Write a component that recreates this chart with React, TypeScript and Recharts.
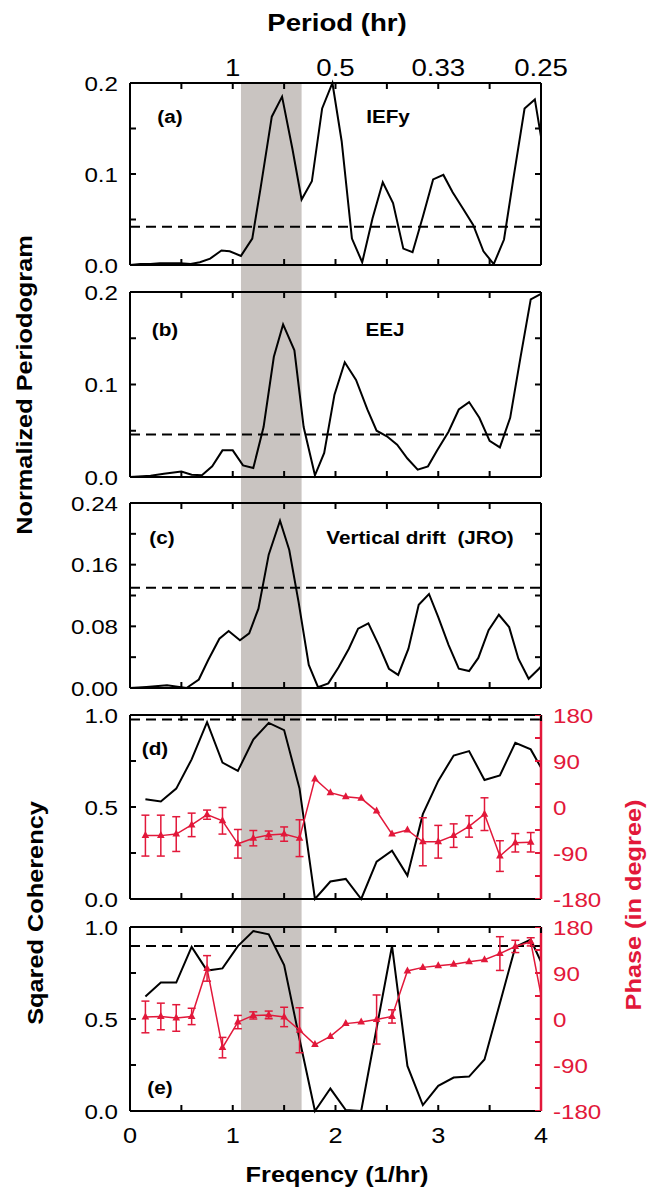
import React from 'react';
import { LineChart, Line, XAxis, YAxis, ReferenceLine, ReferenceArea, ErrorBar } from 'recharts';

const RED = '#e2183a';
const GREY = '#c9c4c1';
const FONT = '"Liberation Sans", Arial, Helvetica, sans-serif';
const SX = 1.15; // lettering in the figure runs wide
const W = 649;
const LEFT = 130;
const RIGHT = 108;

// shaded band (1/hr)
const bandFreq = [1.08, 1.67];

// axes
const freqTicks = [0, 0.5, 1, 1.5, 2, 2.5, 3, 3.5, 4];
const freqLabels = [0, 1, 2, 3, 4];
const periodAt = [1, 2, 3, 4];
const periodText = ['1', '0.5', '0.33', '0.25'];
const phaseTicks = [-180, -135, -90, -45, 0, 45, 90, 135, 180];
const phaseLabels = [-180, -90, 0, 90, 180];
const pgTicks = [0, 0.05, 0.1, 0.15, 0.2];
const pgLabels = [0, 0.1, 0.2];
const driftTicks = [0, 0.04, 0.08, 0.12, 0.16, 0.2, 0.24];
const driftLabels = [0, 0.08, 0.16, 0.24];
const cohTicks = [0, 0.25, 0.5, 0.75, 1];
const cohLabels = [0, 0.5, 1];

// significance levels (dashed)
const levelA = 0.042;
const levelB = 0.046;
const levelC = 0.13;
const levelD = 0.976;
const levelE = 0.897;

// (a) IEFy
const freqA = [0, 0.1, 0.2, 0.29, 0.39, 0.49, 0.59, 0.68, 0.78, 0.89, 0.97, 1.08, 1.19, 1.27, 1.38, 1.48, 1.58, 1.67, 1.77, 1.87, 1.97, 2.06, 2.16, 2.26, 2.36, 2.46, 2.56, 2.66, 2.75, 2.85, 2.95, 3.05, 3.14, 3.24, 3.34, 3.44, 3.54, 3.64, 3.73, 3.84, 3.94, 4.0];
const iefy = [0, 0.001, 0.001, 0.002, 0.002, 0.002, 0.001, 0.003, 0.007, 0.016, 0.015, 0.01, 0.029, 0.084, 0.163, 0.185, 0.128, 0.072, 0.092, 0.172, 0.2, 0.136, 0.029, 0.003, 0.051, 0.091, 0.068, 0.018, 0.014, 0.053, 0.094, 0.099, 0.08, 0.062, 0.044, 0.015, 0.001, 0.028, 0.094, 0.172, 0.182, 0.141];

// (b) EEJ
const freqB = [0, 0.2, 0.33, 0.5, 0.6, 0.7, 0.8, 0.9, 1.0, 1.1, 1.2, 1.3, 1.4, 1.49, 1.6, 1.69, 1.8, 1.89, 1.99, 2.09, 2.2, 2.31, 2.4, 2.5, 2.6, 2.7, 2.8, 2.9, 2.99, 3.1, 3.2, 3.3, 3.4, 3.5, 3.6, 3.7, 3.8, 3.9, 4.0];
const eej = [0, 0.0014, 0.0036, 0.006, 0.0025, 0.0018, 0.0115, 0.0288, 0.0288, 0.0126, 0.0097, 0.054, 0.13, 0.165, 0.137, 0.054, 0.0018, 0.026, 0.089, 0.124, 0.105, 0.073, 0.05, 0.044, 0.035, 0.02, 0.008, 0.0115, 0.0288, 0.049, 0.073, 0.081, 0.064, 0.039, 0.032, 0.064, 0.129, 0.192, 0.198];

// (c) vertical drift (JRO)
const freqC = [0, 0.16, 0.36, 0.55, 0.67, 0.76, 0.87, 0.96, 1.07, 1.16, 1.25, 1.35, 1.46, 1.55, 1.64, 1.74, 1.83, 1.93, 2.03, 2.13, 2.22, 2.32, 2.42, 2.52, 2.61, 2.71, 2.81, 2.91, 3.0, 3.1, 3.2, 3.3, 3.39, 3.49, 3.59, 3.69, 3.78, 3.88, 3.98, 4.0];
const drift = [0, 0.0013, 0.0035, 0, 0.011, 0.036, 0.064, 0.074, 0.062, 0.071, 0.103, 0.173, 0.217, 0.179, 0.112, 0.03, 0.001, 0.006, 0.027, 0.051, 0.077, 0.084, 0.056, 0.025, 0.017, 0.051, 0.108, 0.122, 0.092, 0.056, 0.025, 0.022, 0.039, 0.075, 0.095, 0.079, 0.038, 0.012, 0.025, 0.028];

// (d), (e) squared coherency and phase
const freqCoh = [0.15, 0.3, 0.45, 0.6, 0.75, 0.9, 1.05, 1.2, 1.35, 1.5, 1.65, 1.8, 1.95, 2.1, 2.25, 2.4, 2.55, 2.7, 2.85, 3.0, 3.15, 3.3, 3.45, 3.6, 3.75, 3.9, 4.0];
const cohD = [0.542, 0.53, 0.6, 0.759, 0.961, 0.741, 0.696, 0.867, 0.957, 0.918, 0.6, 0, 0.095, 0.109, 0, 0.203, 0.263, 0.127, 0.461, 0.642, 0.78, 0.804, 0.647, 0.672, 0.849, 0.813, 0.714];
const phaseD = [-56, -56, -53, -35, -15, -27, -72, -61, -55, -53, -61, 55, 28, 20, 17, -8, -53, -45, -68, -68, -56, -38, -14, -96, -70, -69];
const errD = [40, 40, 34, 23, 9, 26, 28, 15, 8, 14, 36, 0, 0, 0, 0, 0, 0, 0, 47, 32, 23, 21, 32, 30, 18, 19];
const cohE = [0.622, 0.698, 0.698, 0.892, 0.763, 0.775, 0.896, 0.978, 0.96, 0.793, 0.39, 0, 0.122, 0.005, 0, 0.45, 0.897, 0.245, 0.032, 0.137, 0.182, 0.187, 0.28, 0.586, 0.892, 0.932, 0.811];
const phaseE = [4, 5, 2, 5, 99, -56, -6, 7, 8, 4, -22, -50, -34, -9, -6, -1, 5, 94, 101, 104, 107, 112, 116, 128, 142, 151, 47];
const errE = [31, 26, 26, 16, 25, 20, 13, 7, 7.5, 19, 44, 0, 0, 0, 0, 48, 13, 0, 0, 0, 0, 0, 0, 33, 12, 8, 0];

type Row = { f: number; v?: number; ph?: number; err?: number };

const rowsA: Row[] = freqA.map((f, i) => ({ f, v: iefy[i] }));
const rowsB: Row[] = freqB.map((f, i) => ({ f, v: eej[i] }));
const rowsC: Row[] = freqC.map((f, i) => ({ f, v: drift[i] }));
const rowsD: Row[] = freqCoh.map((f, i) => ({ f, v: cohD[i], ph: phaseD[i], err: errD[i] }));
const rowsE: Row[] = freqCoh.map((f, i) => ({ f, v: cohE[i], ph: phaseE[i], err: errE[i] }));

const has = (list: number[], v: number) => list.some((l) => Math.abs(l - v) < 1e-9);
const noLabel = () => <g />;

function Tick(props: any) {
  const { x, y, text, anchor, dy, size = 21, color = '#000' } = props;
  if (!text) return <g />;
  return (
    <text
      transform={`translate(${x},${y}) scale(${SX},1)`}
      textAnchor={anchor}
      dy={dy}
      fontSize={size}
      fill={color}
      fontFamily={FONT}
    >
      {text}
    </text>
  );
}

function Tri(props: any) {
  const { cx, cy, payload, index } = props;
  if (cx == null || cy == null || payload?.ph == null || payload.f >= 4) return <g key={`t${index}`} />;
  return (
    <polygon
      key={`t${index}`}
      points={`${cx},${cy - 4.5} ${cx - 3.8},${cy + 2.5} ${cx + 3.8},${cy + 2.5}`}
      fill={RED}
    />
  );
}

type PanelProps = {
  top: number; // top of this chart's svg
  height: number;
  plotTop: number; // frame, page pixels
  plotH: number;
  rows: Row[];
  yDomain: [number, number];
  yTicks: number[];
  yLabels: number[];
  yDigits: number;
  level: number;
  periodAxis?: boolean;
  freqAxis?: boolean;
  phase?: boolean;
};

// the top edge of the frame: the bottom axis of a 1px-tall strip chart, ticks pointing down
function TopEdge(c: PanelProps) {
  const black = { stroke: '#000', strokeWidth: 2 };
  return (
    <div style={{ position: 'absolute', left: 0, top: c.plotTop - 1 }}>
      <LineChart width={W} height={10} data={c.rows} margin={{ top: 0, right: RIGHT, bottom: 0, left: LEFT }}>
        <XAxis
          dataKey="f"
          type="number"
          domain={[0, 4]}
          ticks={freqTicks}
          interval={0}
          height={9}
          axisLine={black}
          tickLine={black}
          tickSize={6}
          tick={noLabel}
        />
        <YAxis hide domain={c.yDomain} />
        <Line dataKey="v" stroke="none" dot={false} activeDot={false} isAnimationActive={false} />
      </LineChart>
    </div>
  );
}

// the inward ticks of the right edge: the left axis of a 1px-wide strip chart sitting on that edge
function RightEdge(c: PanelProps) {
  const color = c.phase ? RED : '#000';
  return (
    <div style={{ position: 'absolute', left: 0, top: c.plotTop }}>
      <LineChart width={W - RIGHT + 1} height={c.plotH} data={c.rows} margin={{ top: 0, right: 0, bottom: 0, left: 0 }}>
        <XAxis hide dataKey="f" type="number" domain={[0, 4]} />
        <YAxis
          type="number"
          domain={c.phase ? [-180, 180] : c.yDomain}
          ticks={c.phase ? phaseTicks : c.yTicks}
          interval={0}
          width={W - RIGHT}
          axisLine={false}
          tickLine={{ stroke: color, strokeWidth: 2 }}
          tickSize={6}
          tick={noLabel}
        />
        <Line dataKey={c.phase ? 'ph' : 'v'} stroke="none" dot={false} activeDot={false} isAnimationActive={false} />
      </LineChart>
    </div>
  );
}

function Panel(c: PanelProps) {
  const black = { stroke: '#000', strokeWidth: 2 };
  const red = { stroke: RED, strokeWidth: 2.5 };
  const topH = c.periodAxis ? c.plotTop - c.top : 1;
  const botH = c.freqAxis ? c.top + c.height - (c.plotTop + c.plotH) : 1;
  const mTop = c.plotTop - c.top - topH;
  const mBottom = c.top + c.height - (c.plotTop + c.plotH) - botH;
  const bandUp = c.plotTop - c.top;
  const bandDown = c.freqAxis ? 0 : c.top + c.height - (c.plotTop + c.plotH);
  const band = (p: any) => (
    <rect
      x={p.x}
      y={p.y - (c.periodAxis ? 0 : bandUp)}
      width={p.width}
      height={p.height + (c.periodAxis ? 0 : bandUp) + bandDown}
      fill={GREY}
    />
  );
  return (
    <div style={{ position: 'absolute', left: 0, top: c.top }}>
      <LineChart width={W} height={c.height} data={c.rows} margin={{ top: mTop, right: 0, bottom: mBottom, left: 0 }}>
        <ReferenceArea xAxisId="b" yAxisId="l" x1={bandFreq[0]} x2={bandFreq[1]} shape={band} />
        <ReferenceLine
          xAxisId="b"
          yAxisId="l"
          y={c.level}
          stroke="#000"
          strokeWidth={2}
          strokeDasharray="10 6"
        />
        <XAxis
          xAxisId="b"
          dataKey="f"
          type="number"
          domain={[0, 4]}
          ticks={freqTicks}
          interval={0}
          height={botH}
          axisLine={black}
          tickLine={black}
          tickSize={-6}
          tickMargin={22}
          tick={
            c.freqAxis
              ? (p: any) => (
                  <Tick
                    {...p}
                    text={has(freqLabels, p.payload.value) ? String(p.payload.value) : ''}
                    anchor="middle"
                    dy="0.72em"
                    size={22}
                  />
                )
              : noLabel
          }
        />
        <XAxis
          xAxisId="t"
          dataKey="f"
          orientation="top"
          type="number"
          domain={[0, 4]}
          ticks={freqTicks}
          interval={0}
          height={topH}
          axisLine={false}
          tickLine={false}
          tickSize={-6}
          tickMargin={13}
          tick={
            c.periodAxis
              ? (p: any) => {
                  const k = periodAt.findIndex((a) => Math.abs(a - p.payload.value) < 1e-9);
                  return <Tick {...p} text={k >= 0 ? periodText[k] : ''} anchor="middle" dy={0} size={24} />;
                }
              : noLabel
          }
        />
        <YAxis
          yAxisId="l"
          type="number"
          domain={c.yDomain}
          ticks={c.yTicks}
          interval={0}
          width={LEFT}
          axisLine={black}
          tickLine={black}
          tickSize={-6}
          tickMargin={18}
          tick={(p: any) => (
            <Tick
              {...p}
              text={has(c.yLabels, p.payload.value) ? Number(p.payload.value).toFixed(c.yDigits) : ''}
              anchor="end"
              dy="0.36em"
            />
          )}
        />
        <YAxis
          yAxisId="r"
          orientation="right"
          type="number"
          domain={c.phase ? [-180, 180] : c.yDomain}
          ticks={c.phase ? phaseTicks : c.yTicks}
          interval={0}
          width={RIGHT}
          axisLine={c.phase ? red : black}
          tickLine={false}
          tickSize={-6}
          tickMargin={18}
          tick={
            c.phase
              ? (p: any) => (
                  <Tick
                    {...p}
                    text={has(phaseLabels, p.payload.value) ? String(p.payload.value) : ''}
                    anchor="start"
                    dy="0.36em"
                    color={RED}
                  />
                )
              : noLabel
          }
        />
        <Line
          xAxisId="b"
          yAxisId="l"
          type="linear"
          dataKey="v"
          stroke="#000"
          strokeWidth={2}
          dot={false}
          isAnimationActive={false}
        />
        {c.phase ? (
          <Line
            xAxisId="t"
            yAxisId="r"
            type="linear"
            dataKey="ph"
            stroke={RED}
            strokeWidth={1.5}
            dot={Tri}
            activeDot={false}
            isAnimationActive={false}
          >
            <ErrorBar dataKey="err" direction="y" width={4} stroke={RED} strokeWidth={1.5} isAnimationActive={false} />
          </Line>
        ) : (
          // same series on the mirrored axes, drawn invisibly so the top/right axes get their scale
          <Line
            xAxisId="t"
            yAxisId="r"
            type="linear"
            dataKey="v"
            stroke="none"
            dot={false}
            activeDot={false}
            isAnimationActive={false}
          />
        )}
      </LineChart>
    </div>
  );
}

function Txt(props: {
  x: number;
  y: number;
  size: number;
  bold?: boolean;
  color?: string;
  rotate?: boolean;
  children: React.ReactNode;
}) {
  const { x, y, size, bold, color = '#000', rotate, children } = props;
  return (
    <div
      style={{
        position: 'absolute',
        left: x,
        top: y,
        transform: `translate(-50%,-50%)${rotate ? ' rotate(-90deg)' : ''} scaleX(${SX})`,
        fontFamily: FONT,
        fontSize: size,
        fontWeight: bold ? 700 : 400,
        color,
        whiteSpace: 'pre',
        lineHeight: 1,
      }}
    >
      {children}
    </div>
  );
}

const panels: PanelProps[] = [
  { top: 0, height: 278, plotTop: 83, plotH: 182, rows: rowsA, yDomain: [0, 0.2], yTicks: pgTicks, yLabels: pgLabels, yDigits: 1, level: levelA, periodAxis: true },
  { top: 278, height: 212, plotTop: 292, plotH: 185, rows: rowsB, yDomain: [0, 0.2], yTicks: pgTicks, yLabels: pgLabels, yDigits: 1, level: levelB },
  { top: 490, height: 211, plotTop: 503, plotH: 185, rows: rowsC, yDomain: [0, 0.24], yTicks: driftTicks, yLabels: driftLabels, yDigits: 2, level: levelC },
  { top: 701, height: 212, plotTop: 715, plotH: 184, rows: rowsD, yDomain: [0, 1], yTicks: cohTicks, yLabels: cohLabels, yDigits: 1, level: levelD, phase: true },
  { top: 913, height: 277, plotTop: 927, plotH: 184, rows: rowsE, yDomain: [0, 1], yTicks: cohTicks, yLabels: cohLabels, yDigits: 1, level: levelE, phase: true, freqAxis: true },
];

export default function App() {
  return (
    <div style={{ position: 'absolute', left: 0, top: 0, width: W, height: 1190, background: '#fff', overflow: 'hidden' }}>
      {panels.map((p, i) => (
        <Panel key={`p${i}`} {...p} />
      ))}
      {panels.map((p, i) => (
        <TopEdge key={`te${i}`} {...p} />
      ))}
      {panels.map((p, i) => (
        <RightEdge key={`re${i}`} {...p} />
      ))}

      <Txt x={337} y={23} size={24} bold>Period (hr)</Txt>
      <Txt x={337} y={1175} size={22} bold>Freqency (1/hr)</Txt>
      <Txt x={25} y={385} size={22} bold rotate>Normalized Periodogram</Txt>
      <Txt x={36} y={913} size={22} bold rotate>Sqared Coherency</Txt>
      <Txt x={634} y={905} size={22} bold rotate color={RED}>Phase (in degree)</Txt>

      <Txt x={170} y={117} size={18} bold>(a)</Txt>
      <Txt x={388} y={117} size={18} bold>IEFy</Txt>
      <Txt x={165} y={330} size={18} bold>(b)</Txt>
      <Txt x={385} y={330} size={18} bold>EEJ</Txt>
      <Txt x={162} y={538} size={18} bold>(c)</Txt>
      <Txt x={420} y={538} size={18} bold>Vertical drift  (JRO)</Txt>
      <Txt x={155} y={749} size={18} bold>(d)</Txt>
      <Txt x={160} y={1088} size={18} bold>(e)</Txt>
    </div>
  );
}
